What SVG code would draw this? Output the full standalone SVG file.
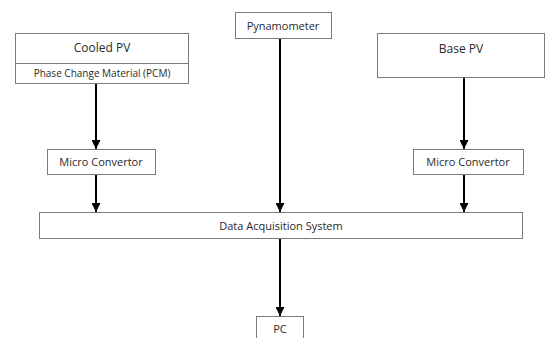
<svg xmlns="http://www.w3.org/2000/svg" width="547" height="338" viewBox="0 0 547 338">
<style>
.box{fill:#fff;stroke:#7a7a7a;stroke-width:1}
.t{font-family:"Open Sans","Liberation Sans",sans-serif;font-size:11px;fill:#2a2a2a;text-anchor:middle}
.big{font-size:12px}
.sm{font-size:10px}
.c{stroke:#000;stroke-width:2;fill:none;marker-end:url(#ah)}
</style>
<defs>
<marker id="ah" viewBox="0 0 10 10" refX="10" refY="5" markerWidth="4.5" markerHeight="4.5" markerUnits="strokeWidth" orient="auto">
<path d="M0,0 L10,5 L0,10 z" fill="#000"/>
</marker>
</defs>
<rect width="547" height="338" fill="#fff"/>
<g id="cooled-pv">
<rect class="box" x="15.5" y="33.5" width="173" height="50"/>
<line x1="15.5" y1="63.5" x2="188.5" y2="63.5" stroke="#7a7a7a"/>
<text class="t big" x="102" y="52">Cooled PV</text>
<text class="t sm" x="102" y="77">Phase Change Material (PCM)</text>
</g>
<g id="pynamometer">
<rect class="box" x="235.5" y="12.5" width="96" height="26"/>
<text class="t" x="283" y="29.5">Pynamometer</text>
</g>
<g id="base-pv">
<rect class="box" x="377.5" y="33.5" width="167" height="44"/>
<text class="t big" x="461" y="53">Base PV</text>
</g>
<g id="micro-left">
<rect class="box" x="47.5" y="149.5" width="108" height="25"/>
<text class="t" x="101" y="166">Micro Convertor</text>
</g>
<g id="micro-right">
<rect class="box" x="413.5" y="149.5" width="110" height="25"/>
<text class="t" x="468" y="166">Micro Convertor</text>
</g>
<g id="das">
<rect class="box" x="39.5" y="212.5" width="483" height="26"/>
<text class="t" x="281" y="229.5">Data Acquisition System</text>
</g>
<g id="pc">
<rect class="box" x="256.5" y="316.5" width="47" height="30"/>
<text class="t" x="280" y="333">PC</text>
</g>
<g id="connectors">
<line class="c" x1="96" y1="84" x2="96" y2="149"/>
<line class="c" x1="464" y1="78" x2="464" y2="149"/>
<line class="c" x1="96" y1="175" x2="96" y2="212"/>
<line class="c" x1="464" y1="175" x2="464" y2="212"/>
<line class="c" x1="280" y1="39" x2="280" y2="212"/>
<line class="c" x1="280" y1="239" x2="280" y2="316"/>
</g>
</svg>
